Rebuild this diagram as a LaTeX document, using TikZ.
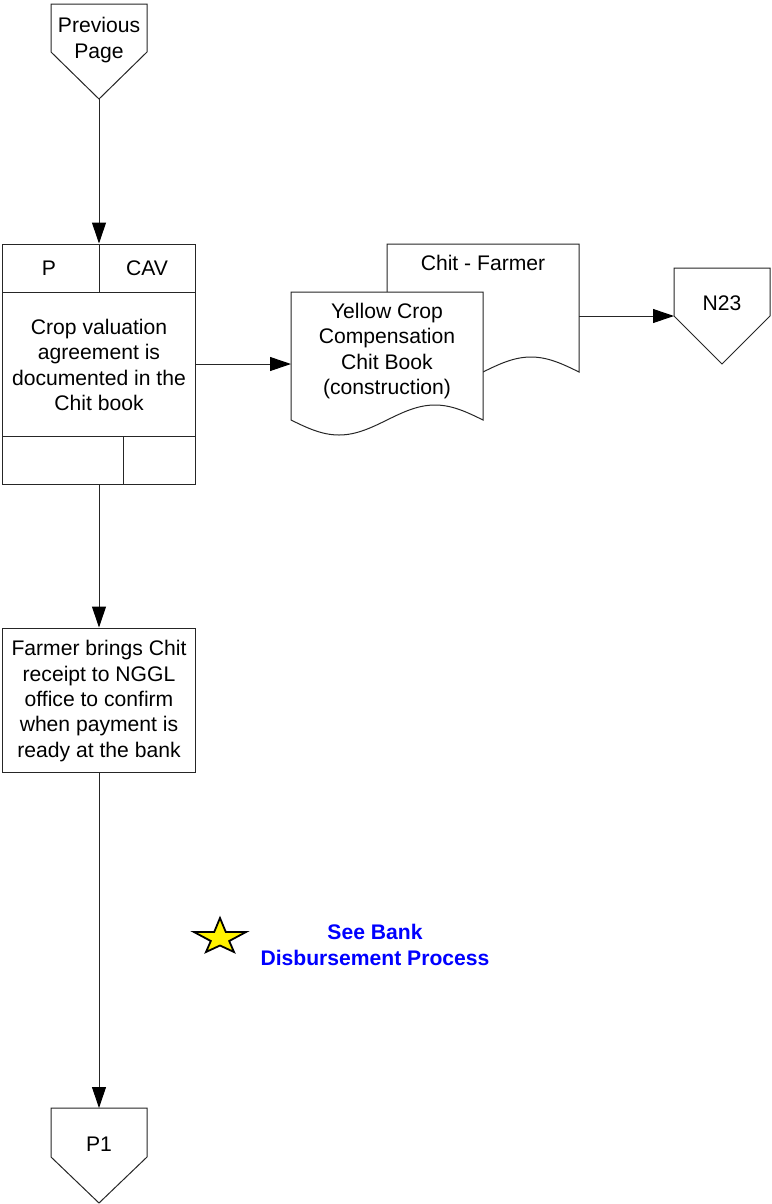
\documentclass[tikz,border=0pt]{standalone}
\usepackage{fontspec}
\setmainfont{Liberation Sans}
\usetikzlibrary{arrows.meta}
\begin{document}
\begin{tikzpicture}[x=1bp,y=-1bp,
  line/.style={draw=black!85, line width=1bp},
  conn/.style={line, -{Triangle[length=21bp,width=14bp,color=black]}},
  txt/.style={font=\fontsize{21.2}{25.5}\selectfont, align=center, inner sep=0pt},
  shp/.style={line, fill=white, line join=miter},
  boxnode/.style={shp, rectangle, minimum width=192bp, inner sep=0pt},
  bluetxt/.style={txt, font=\fontsize{21.2}{26}\selectfont\bfseries, text=blue}]
\useasboundingbox (0,0) rectangle (772,1204);

% Previous page connector
\draw[shp] (51,4) -- (147,4) -- (147,52) -- (99,99) -- (51,52) -- cycle;
\coordinate (prevtip) at (99,99);
\node[txt] (prevtxt) at (99,40) {Previous\\Page};

% main process box
\node[boxnode, minimum height=240bp] (main) at (99,364) {};
\draw[line] (3,292) -- (195,292);
\draw[line] (3,436) -- (195,436);
\draw[line] (99,244) -- (99,292);
\draw[line] (123,436) -- (123,484);
\node[txt] (ptxt) at (49,268) {P};
\node[txt] (cavtxt) at (147,268) {CAV};
\node[txt] (maintxt) at (99,365) {Crop valuation\\agreement is\\documented in the\\Chit book};

% documents
\draw[shp] (387,372) sin (435,387) cos (483,372) sin (531,357) cos (579,372)
  -- (579,244) -- (387,244) -- cycle;
\node[txt] (backtxt) at (483,263) {Chit - Farmer};
\draw[shp] (291,420) sin (339,435) cos (387,420) sin (435,405) cos (483,420)
  -- (483,292) -- (291,292) -- cycle;
\node[txt] (fronttxt) at (387,351) {Yellow Crop\\Compensation\\Chit Book\\(construction)};
\coordinate (frontin) at (291,364);
\coordinate (backout) at (579,316);

% N23 connector
\draw[shp] (674,268) -- (770,268) -- (770,316) -- (722,364) -- (674,316) -- cycle;
\coordinate (n23in) at (674,316);
\node[txt] (n23txt) at (722,303) {N23};

% farmer box
\node[boxnode, minimum height=144bp] (farmer) at (99,700) {};
\node[txt] (farmertxt) at (99,701) {Farmer brings Chit\\receipt to NGGL\\office to confirm\\when payment is\\ready at the bank};

% P1 connector
\draw[shp] (51,1108) -- (147,1108) -- (147,1157) -- (99,1203) -- (51,1157) -- cycle;
\coordinate (p1top) at (99,1108);
\node[txt] (p1txt) at (99,1144) {P1};

% star and note
\draw[draw=black, line width=1.8bp, fill=yellow, line join=miter]
  (220,918) -- (225.8,932) -- (246,932) -- (229.2,941) -- (234,952)
  -- (220,945.5) -- (206,952) -- (210.8,941) -- (194,932) -- (214.2,932) -- cycle;
\node[bluetxt] (note) at (375,945) {See Bank\\Disbursement Process};

% connectors
\draw[conn] (prevtip) -- (main.north);
\draw[conn] (main.east |- frontin) -- (frontin);
\draw[conn] (backout) -- (n23in);
\draw[conn] (main.south) -- (farmer.north);
\draw[conn] (farmer.south) -- (p1top);
\end{tikzpicture}
\end{document}
